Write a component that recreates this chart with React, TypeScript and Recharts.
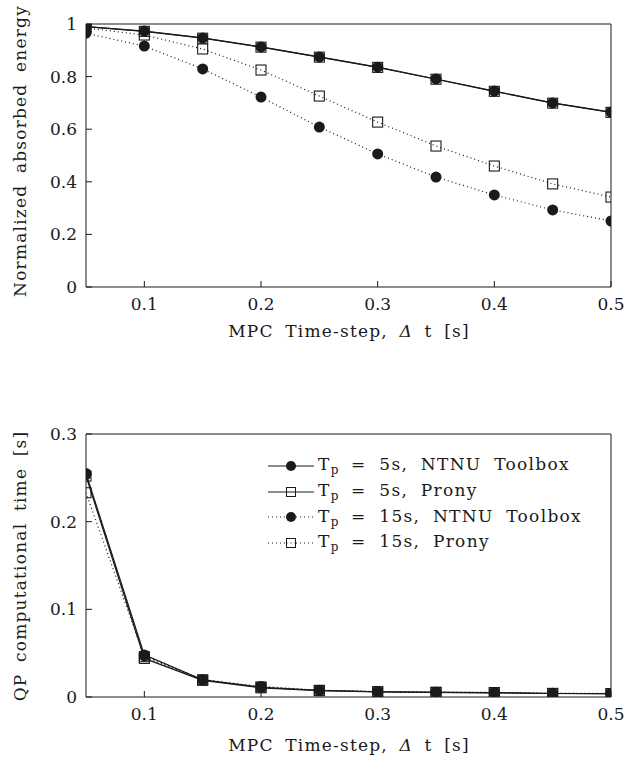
import React from 'react';
import { LineChart, Line, XAxis, YAxis } from 'recharts';

const steps = [0.05, 0.1, 0.15, 0.2, 0.25, 0.3, 0.35, 0.4, 0.45, 0.5];

// normalized absorbed energy
const energy5sNtnu = [0.99, 0.973, 0.947, 0.913, 0.875, 0.836, 0.791, 0.745, 0.7, 0.665];
const energy5sProny = [0.99, 0.972, 0.946, 0.912, 0.874, 0.835, 0.79, 0.744, 0.699, 0.664];
const energy15sNtnu = [0.965, 0.916, 0.829, 0.722, 0.608, 0.506, 0.418, 0.35, 0.293, 0.251];
const energy15sProny = [0.985, 0.958, 0.905, 0.825, 0.726, 0.627, 0.536, 0.46, 0.392, 0.342];

// QP computational time [s]
const time5sNtnu = [0.255, 0.048, 0.0195, 0.011, 0.0075, 0.006, 0.0053, 0.005, 0.004, 0.0038];
const time5sProny = [0.252, 0.044, 0.019, 0.0105, 0.0072, 0.0058, 0.0052, 0.0048, 0.004, 0.0037];
const time15sNtnu = [0.254, 0.047, 0.0198, 0.012, 0.0078, 0.0062, 0.0055, 0.0052, 0.0042, 0.004];
const time15sProny = [0.233, 0.046, 0.0196, 0.0115, 0.0076, 0.006, 0.0054, 0.005, 0.0041, 0.0039];

const xTicks = [0.1, 0.2, 0.3, 0.4, 0.5];
const energyTicks = [0, 0.2, 0.4, 0.6, 0.8, 1];
const timeTicks = [0, 0.1, 0.2, 0.3];

const legendLabels = ['5s, NTNU Toolbox', '5s, Prony', '15s, NTNU Toolbox', '15s, Prony'];

const energyData = steps.map((x, i) => ({
  x,
  a: energy5sNtnu[i],
  b: energy5sProny[i],
  c: energy15sNtnu[i],
  d: energy15sProny[i],
}));

const timeData = steps.map((x, i) => ({
  x,
  a: time5sNtnu[i],
  b: time5sProny[i],
  c: time15sNtnu[i],
  d: time15sProny[i],
}));

const FONT = '"DejaVu Serif", serif';
const INK = '#1a1a1a';

const fmt = (v: number) => (v === 0 ? '0' : v === 1 ? '1' : v.toFixed(1));

const circleDot = (p: any) => {
  if (p.cx == null || p.cy == null) return <g key={p.index} />;
  return <circle key={p.index} cx={p.cx} cy={p.cy} r={5.5} fill={INK} stroke="none" />;
};

const squareDot = (p: any) => {
  if (p.cx == null || p.cy == null) return <g key={p.index} />;
  return (
    <rect
      key={p.index}
      x={p.cx - 5}
      y={p.cy - 5}
      width={10}
      height={10}
      fill="none"
      stroke={INK}
      strokeWidth={1.1}
    />
  );
};

const tickStyle = { fill: INK, fontSize: 17, fontFamily: FONT };

// plot box: left 86, right 611, height 263
function Panel({ data, yTicks, yMax, plotTop }: { data: any[]; yTicks: number[]; yMax: number; plotTop: number }) {
  return (
    <div style={{ position: 'absolute', left: 0, top: plotTop - 13 }}>
      <LineChart width={626} height={309} data={data} margin={{ top: 12, right: 14, bottom: 0, left: 0 }}>
        <XAxis
          dataKey="x"
          type="number"
          domain={[0.05, 0.5]}
          ticks={xTicks}
          interval={0}
          allowDataOverflow
          tickFormatter={fmt}
          tick={tickStyle}
          tickSize={-6}
          tickMargin={17}
          height={33}
          stroke={INK}
        />
        <XAxis
          xAxisId="top"
          orientation="top"
          type="number"
          domain={[0.05, 0.5]}
          ticks={xTicks}
          interval={0}
          allowDataOverflow
          tick={false}
          tickSize={-6}
          height={1}
          stroke={INK}
        />
        <YAxis
          type="number"
          domain={[0, yMax]}
          ticks={yTicks}
          interval={0}
          allowDataOverflow
          tickFormatter={fmt}
          tick={tickStyle}
          tickSize={-6}
          tickMargin={15}
          width={86}
          stroke={INK}
        />
        <YAxis
          yAxisId="right"
          orientation="right"
          type="number"
          domain={[0, yMax]}
          ticks={yTicks}
          interval={0}
          allowDataOverflow
          tick={false}
          tickSize={-6}
          width={1}
          stroke={INK}
        />
        <Line dataKey="d" stroke={INK} strokeWidth={1.2} strokeDasharray="1 3" dot={squareDot} isAnimationActive={false} />
        <Line dataKey="c" stroke={INK} strokeWidth={1.2} strokeDasharray="1 3" dot={circleDot} isAnimationActive={false} />
        <Line dataKey="b" stroke={INK} strokeWidth={1.2} dot={squareDot} isAnimationActive={false} />
        <Line dataKey="a" stroke={INK} strokeWidth={1.2} dot={circleDot} isAnimationActive={false} />
      </LineChart>
    </div>
  );
}

const titleStyle: React.CSSProperties = {
  position: 'absolute',
  fontFamily: FONT,
  fontSize: 17,
  color: INK,
  whiteSpace: 'nowrap',
  letterSpacing: 1.2,
  wordSpacing: 5,
};

function XTitle({ y }: { y: number }) {
  return (
    <div style={{ ...titleStyle, left: 349, top: y, transform: 'translate(-50%, -50%)' }}>
      MPC Time-step, <span style={{ fontStyle: 'italic' }}>Δ</span> t [s]
    </div>
  );
}

function YTitle({ y, text }: { y: number; text: string }) {
  return (
    <div style={{ ...titleStyle, left: 20, top: y, transform: 'translate(-50%, -50%) rotate(-90deg)' }}>
      {text}
    </div>
  );
}

function LegendBox() {
  return (
    <div style={{ position: 'absolute', left: 266, top: 453 }}>
      {legendLabels.map((label, i) => (
        <div key={label} style={{ display: 'flex', alignItems: 'center', height: 25.7 }}>
          <svg width={50} height={20}>
            <line
              x1={2}
              x2={48}
              y1={10}
              y2={10}
              stroke={INK}
              strokeWidth={1.2}
              strokeDasharray={i >= 2 ? '1 3' : undefined}
            />
            {i % 2 === 0 ? (
              <circle cx={25} cy={10} r={5} fill={INK} />
            ) : (
              <rect x={20.5} y={5.5} width={9} height={9} fill="#fff" stroke={INK} strokeWidth={1} />
            )}
            {i % 2 === 1 && (
              <line x1={20.5} x2={29.5} y1={10} y2={10} stroke={INK} strokeWidth={1} strokeDasharray={i >= 2 ? '1 3' : undefined} />
            )}
          </svg>
          <span style={{ ...titleStyle, position: 'static', marginLeft: 2, letterSpacing: 1.3, wordSpacing: 6 }}>
            T<sub style={{ fontSize: 12, letterSpacing: 0 }}>p</sub> = {label}
          </span>
        </div>
      ))}
    </div>
  );
}

export default function App() {
  return (
    <div style={{ position: 'absolute', left: 0, top: 0, width: 626, height: 762, background: '#fff' }}>
      <Panel data={energyData} yTicks={energyTicks} yMax={1} plotTop={24} />
      <Panel data={timeData} yTicks={timeTicks} yMax={0.3} plotTop={434} />
      <XTitle y={331} />
      <XTitle y={745} />
      <YTitle y={151} text="Normalized absorbed energy" />
      <YTitle y={566} text="QP computational time [s]" />
      <LegendBox />
    </div>
  );
}
